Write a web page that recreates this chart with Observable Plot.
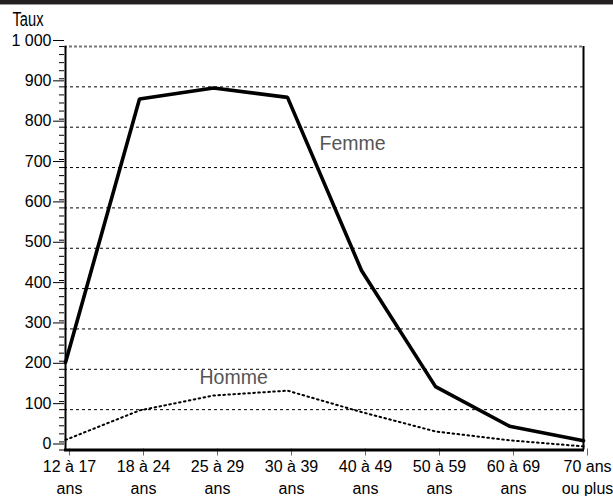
<!DOCTYPE html>
<html><head><meta charset="utf-8">
<script src="https://cdn.jsdelivr.net/npm/d3@7"></script>
<script src="https://cdn.jsdelivr.net/npm/@observablehq/plot@0.6"></script>
<style>
body{margin:0;background:#fff;font-family:"Liberation Sans",Arial,sans-serif;}
#bar{height:4px;background:#231f20;border-bottom:1px solid #9a9a9a;}
#chart svg{display:block;}
</style></head><body><div id="bar"></div><div id="chart"></div>
<script>
const ageGroups = ["12 à 17 ans","18 à 24 ans","25 à 29 ans","30 à 39 ans","40 à 49 ans","50 à 59 ans","60 à 69 ans","70 ans ou plus"];
const ageLabels = ["12 à 17\nans","18 à 24\nans","25 à 29\nans","30 à 39\nans","40 à 49\nans","50 à 59\nans","60 à 69\nans","70 ans\nou plus"];
const femme = [217, 870, 897, 874, 445, 157, 59, 23];
const homme = [25, 98, 135, 147, 94, 46, 24, 9];
const yTicks = [0,100,200,300,400,500,600,700,800,900,1000];
const yTickLabels = ["0","100","200","300","400","500","600","700","800","900","1 000"];
const yMinorTicks = d3.range(0, 1001, 20);
const gridValues = [100,200,300,400,500,600,700,800,900];
const yTitle = "Taux";
const seriesNames = ["Femme","Homme"];

const rows = [];
ageGroups.forEach((a,i)=>{
  rows.push({age:a, value:femme[i], sexe:"Femme"});
  rows.push({age:a, value:homme[i], sexe:"Homme"});
});

const chart = Plot.plot({
  width: 613,
  height: 491,
  marginLeft: 64,
  marginRight: 29,
  marginTop: 41,
  marginBottom: 46.5,
  style: {fontFamily: "'Liberation Sans', Arial, sans-serif", color: "#000", background: "#fff"},
  x: {type: "point", domain: ageGroups, padding: 0, label: null},
  y: {domain: [0, 1000], label: null},
  marks: [
    Plot.ruleY(gridValues, {stroke: "#000", strokeDasharray: "3,3", strokeWidth: 1}),
    Plot.ruleY([1000], {stroke: "#777", strokeDasharray: "3,2", strokeWidth: 2}),
    Plot.axisY({ticks: yMinorTicks, tickSize: 5, tickFormat: () => "", stroke: "#000"}),
    Plot.axisY({ticks: yTicks, tickSize: 11, tickPadding: 2, fontSize: 16, dy: -6,
      tickFormat: d => yTickLabels[yTicks.indexOf(d)], stroke: "#000", fill: "#000"}),
    Plot.ruleX([ageGroups[0]], {stroke: "#000", strokeWidth: 2}),
    Plot.ruleX([ageGroups[ageGroups.length-1]], {stroke: "#000", strokeWidth: 2}),
    Plot.axisX({tickSize: 7, tickPadding: 0, fontSize: 16, lineHeight: 1.4, dx: 4, dy: -1,
      stroke: "#666", fill: "#000",
      tickFormat: d => ageLabels[ageGroups.indexOf(d)]}),
    Plot.line(rows.filter(d => d.sexe === "Homme"), {x: "age", y: "value", stroke: "#000",
      strokeWidth: 2, strokeDasharray: "1.6,3.4"}),
    Plot.line(rows.filter(d => d.sexe === "Femme"), {x: "age", y: "value", stroke: "#000",
      strokeWidth: 3.6, strokeLinejoin: "miter"}),
    Plot.ruleY([0], {stroke: "#000", strokeWidth: 3}),
    Plot.text([seriesNames[0]], {x: () => ageGroups[3], y: () => 760, dx: 32, text: d => d,
      textAnchor: "start", fontSize: 19.5, fill: "#555"}),
    Plot.text([seriesNames[1]], {x: () => ageGroups[2], y: () => 180, dx: -14, text: d => d,
      textAnchor: "start", fontSize: 19.5, fill: "#555"}),
    Plot.text([yTitle], {frameAnchor: "top-left", dx: -52, dy: -27, lineAnchor: "middle", text: d => d,
      textAnchor: "start", fontSize: 20, fill: "#000", className: "ytitle"})
  ]
});
document.getElementById("chart").appendChild(chart);
d3.select(chart).selectAll(".ytitle text").attr("textLength", 31).attr("lengthAdjust", "spacingAndGlyphs");
</script>
</body></html>
